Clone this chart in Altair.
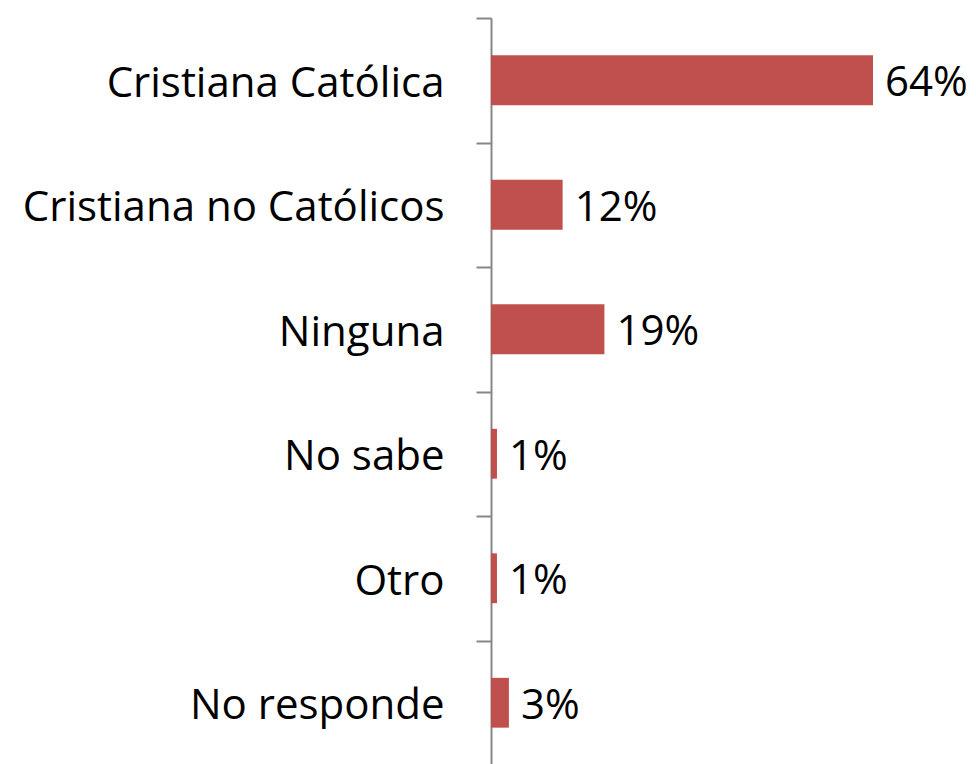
import altair as alt
import pandas as pd

categories = ["Cristiana Católica", "Cristiana no Católicos", "Ninguna", "No sabe", "Otro", "No responde"]
values = [64, 12, 19, 1, 1, 3]
labels = ["64%", "12%", "19%", "1%", "1%", "3%"]

df = pd.DataFrame({"cat": categories, "val": values, "lab": labels})

FONT = "Open Sans"
FS = 42

y = alt.Y(
    "cat:N",
    sort=categories,
    title=None,
    scale=alt.Scale(paddingInner=0, paddingOuter=0),
    axis=alt.Axis(
        domain=True,
        domainColor="#878787",
        domainWidth=2,
        ticks=True,
        tickBand="extent",
        tickColor="#878787",
        tickWidth=2,
        tickSize=15,
        labelFont=FONT,
        labelFontSize=FS,
        labelColor="#000000",
        labelPadding=32,
        labelLimit=600,
        labelBaseline="alphabetic",
        labelOffset=16,
    ),
)

x = alt.X("val:Q", title=None, axis=None, scale=alt.Scale(domain=[0, 64], nice=False))

bars = alt.Chart(df).mark_bar(color="#C0504D", height={"band": 0.4}).encode(x=x, y=y)

text = alt.Chart(df).mark_text(
    align="left", baseline="alphabetic", dx=12, dy=16, font=FONT, fontSize=FS, color="#000000"
).encode(x=x, y=alt.Y("cat:N", sort=categories), text="lab:N")

chart = (
    alt.layer(bars, text)
    .properties(
        width=382,
        height=747,
        padding={"left": 483, "top": 10, "right": 95, "bottom": 0},
        autosize=alt.AutoSizeParams(type="none"),
    )
    .configure_view(stroke=None)
)

chart.save("out.html", embed_options={"renderer": "svg", "actions": False})
